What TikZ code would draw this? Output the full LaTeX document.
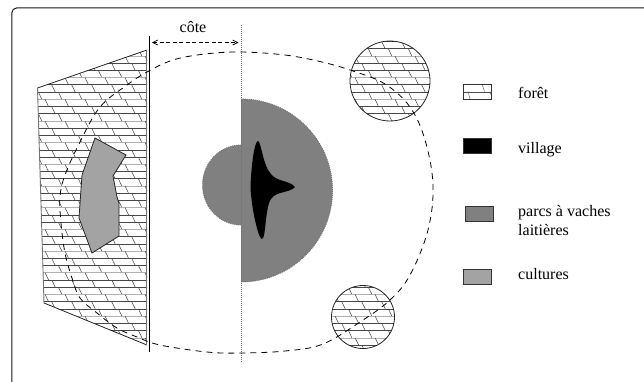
\documentclass[tikz,border=0pt]{standalone}
\usepackage{fontspec}
\setmainfont{Liberation Serif}
\usetikzlibrary{arrows.meta}
\definecolor{parc}{gray}{0.5}
\definecolor{cult}{gray}{0.64}
\newcommand{\brickhatch}[4]{% xmin ymin xmax ymax
  \foreach \k in {-40,...,60}{
    \pgfmathsetmacro{\yy}{55.9+7.23*\k}
    \pgfmathtruncatemacro{\inrow}{(\yy>#2-8 && \yy<#4) ? 1 : 0}
    \ifnum\inrow=1
      \pgfmathtruncatemacro{\m}{mod(\k+120,3)}
      \ifnum\m=0
        \draw[hatchl,draw=black!30] (#1,\yy) -- (#3,\yy);
      \else
        \draw[hatchl,draw=black!72] (#1,\yy) -- (#3,\yy);
      \fi
      \pgfmathsetmacro{\xb}{mod(6.67*\k+4000,20)}
      \foreach \c in {0,...,32}{
        \pgfmathsetmacro{\xa}{\xb+20*\c-25+#1}
        \draw[hatchs] (\xa,\yy) -- ++(3.5,7.23);
      }
    \fi
  }
}
\tikzset{
  x=1pt,y=-1pt,
  hatchl/.style={line width=0.7pt},
  hatchs/.style={line width=0.55pt,draw=black!70},
  frameline/.style={line width=1pt,draw=black!90},
  edgeline/.style={line width=0.8pt,draw=black!85},
  dotline/.style={line width=0.9pt,draw=black!55,dash pattern=on 1pt off 1pt},
  ring/.style={line width=0.8pt,draw=black,dash pattern=on 6pt off 5pt},
  swatch/.style={line width=0.8pt,draw=black!80},
  label/.style={anchor=base west,inner sep=0pt,font=\fontsize{16}{18}\selectfont},
}
\begin{document}
\begin{tikzpicture}
\useasboundingbox (0,0) rectangle (644,381);
\clip (0,0) rectangle (644,381);
\fill[white] (0,0) rectangle (644,381);
\draw[frameline,rounded corners=5pt] (11.8,400) -- (11.8,7.9) -- (660,7.9);

% forest polygon
\begin{scope}
  \clip (37.5,88) -- (147,50) -- (147,345) -- (44,303) -- cycle;
  \brickhatch{30}{45}{150}{350}
\end{scope}
\draw[edgeline] (147,50) -- (37.5,88) (147,345) -- (44,303);
\draw[line width=0.9pt,draw=black!55] (37.5,88) -- (44,303) (146.5,50) -- (146.5,345);

% cultures
\draw[edgeline,fill=cult] (95,138) -- (126,155) -- (113,176) -- (117,197) -- (119,203) -- (119,236) -- (92,253) -- (79,218) -- (82,175) -- cycle;

% coast
\coordinate (coteA) at (149.5,36);
\coordinate (coteB) at (149.5,352);
\draw[line width=1.8pt] (coteA) -- (coteB);

% parcs
\fill[parc] (241,99) arc[start angle=-90,end angle=90,radius=91.5];
\fill[parc] (241,145) arc[start angle=-90,end angle=-270,x radius=38.5,y radius=40];
\draw[dotline] (241,99) arc[start angle=-90,end angle=90,radius=91.5];
\draw[dotline] (241,145) arc[start angle=-90,end angle=-270,x radius=38.5,y radius=40];

% axis
\coordinate (axeA) at (241,25);
\coordinate (axeB) at (241,362);
\draw[dotline] (axeA) -- (axeB);

% village
\fill[black] (258,141) .. controls (261,141) and (263,166) .. (271,174)
  .. controls (277,182) and (289,180) .. (295,187)
  .. controls (290,193) and (276,191) .. (271,199)
  .. controls (265,207) and (266,239) .. (262,239)
  .. controls (258,239) and (251,205) .. (250.5,187)
  .. controls (251,170) and (254,141) .. (258,141) -- cycle;

% circles
\begin{scope}
  \clip (390,81) circle[radius=40];
  \brickhatch{340}{35}{440}{125}
\end{scope}
\draw[edgeline] (390,81) circle[radius=40];
\begin{scope}
  \clip (363,317) circle[radius=31.5];
  \brickhatch{320}{280}{400}{355}
\end{scope}
\draw[edgeline] (363,317) circle[radius=31.5];

% dashed ring
\draw[ring] plot[smooth cycle,tension=0.6] coordinates {
  (241,52) (285,55) (322,62) (353,71) (385,84) (410,107) (425,140) (433,185)
  (428,230) (410,275) (390,300) (363,320) (323,344) (285,351) (241,353)
  (207,352) (160,345) (137,337) (117,328) (97,313) (80,298) (72,278) (65,253)
  (61,223) (60,197) (65,175) (80,142) (100,107) (127,85) (147,72) (173,60) (205,54)};

% cote
\coordinate (flA) at (152,42.5);
\coordinate (flB) at (238.5,42.5);
\draw[line width=0.7pt,dash pattern=on 4pt off 2.5pt,{Straight Barb[length=5pt,width=5pt]}-{Straight Barb[length=5pt,width=5pt]}] (flA) -- (flB);
\node[label,anchor=base] (cote) at (193,32) {côte};

% legend
\node[swatch,minimum width=28pt,minimum height=15pt,inner sep=0pt,anchor=north west] (sForet) at (463,84) {};
\draw[line width=0.5pt,draw=black!70] (sForet.west) -- (sForet.east);
\draw[line width=0.4pt,draw=black!70] (482,84) -- (484.5,91.5) (490,91.5) -- (491,95) (468,91.5) -- (470,99);
\node[swatch,fill=black,minimum width=28pt,minimum height=15pt,inner sep=0pt,anchor=north west] (sVillage) at (463,138) {};
\node[swatch,fill=parc,minimum width=28pt,minimum height=15pt,inner sep=0pt,anchor=north west] (sParc) at (465,206) {};
\node[swatch,fill=cult,minimum width=28pt,minimum height=15pt,inner sep=0pt,anchor=north west] (sCult) at (463,269) {};
\node[label] (lForet) at (518,98) {forêt};
\node[label] (lVillage) at (518,153) {village};
\node[label] (lParc) at (518,216) {parcs à vaches};
\node[label] (lLait) at (518,235) {laitières};
\node[label] (lCult) at (518,279) {cultures};
\end{tikzpicture}
\end{document}
